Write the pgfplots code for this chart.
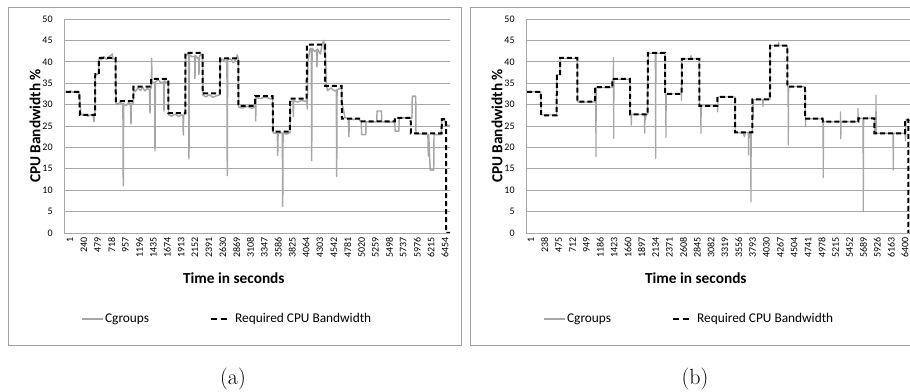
\documentclass[border=0pt]{standalone}
\usepackage{pgfplots}
\pgfplotsset{compat=1.18}
\usepackage{fontspec}
\newfontfamily\carlito{Carlito}
\definecolor{gridgray}{HTML}{A8A8A8}
\definecolor{linegray}{HTML}{A6A6A6}
\definecolor{boxgray}{HTML}{A0A0A0}
\newcommand{\tickfont}{\carlito\fontsize{7.5}{8}\selectfont}
\newcommand{\titlefont}{\carlito\bfseries\fontsize{11.5}{13}\selectfont}
\newcommand{\legfont}{\carlito\fontsize{10}{12}\selectfont}
\pgfplotsset{
  panel/.style={
    scale only axis, width=289.5pt, height=160.5pt,
    anchor=south west,
    ymin=0, ymax=50, ytick={0,5,...,50},
    ymajorgrids, grid style={color=gridgray, line width=0.7pt},
    axis x line*=bottom, axis y line*=left,
    axis line style={gridgray, line width=0.7pt, -},
    major tick length=0pt,
    yticklabel style={font=\tickfont, /pgf/number format/assume math mode=true, xshift=-5pt},
    xticklabel style={font=\tickfont, rotate=90, anchor=east, yshift=-3pt},
    xlabel={Time in seconds},
    xlabel style={font=\titlefont, at={(axis description cs:0.44,-0.21)}, anchor=center},
    ylabel={CPU Bandwidth \%},
    ylabel style={font=\titlefont, at={(axis description cs:-0.075,0.5)}, anchor=center, rotate=0},
    legend columns=2,
    legend style={draw=none, fill=none, font=\legfont, inner sep=0pt,
      at={(axis description cs:0.044,-0.402)}, anchor=west,
      nodes={inner xsep=1.5pt},
      /tikz/every even column/.append style={column sep=44pt}},
    legend cell align=left,
  },
  cg/.style={color=linegray, line width=1.1pt, line join=round,
    legend image code/.code={\draw[##1, line width=0.9pt] (0pt,0pt) -- (15.5pt,0pt);}},
  rq/.style={color=black, line width=1.5pt, dash pattern=on 3.75pt off 2.25pt,
    legend image code/.code={\draw[##1, dash pattern=on 4.5pt off 3pt] (0pt,0pt) -- (12pt,0pt); \path (16pt,0pt);}},
}
\begin{document}
\begin{tikzpicture}
\useasboundingbox (0,0) rectangle (682.5pt,294pt);
\draw[boxgray, line width=0.75pt] (6pt,34.5pt) rectangle (345.75pt,288pt);
\draw[boxgray, line width=0.75pt] (352.5pt,34.5pt) rectangle (692.25pt,288pt);
\node[font=\fontsize{16.5}{18}\selectfont] at (174.75pt,9.5pt) {(a)};
\node[font=\fontsize{16.5}{18}\selectfont] at (521.25pt,9.5pt) {(b)};

\begin{axis}[panel, at={(48pt,119.25pt)}, xmin=-33, xmax=6610,
  xtick={1,240,479,718,957,1196,1435,1674,1913,2152,2391,2630,2869,3108,3347,3586,3825,4064,4303,4542,4781,5020,5259,5498,5737,5976,6215,6454},
  xticklabels={1,240,479,718,957,1196,1435,1674,1913,2152,2391,2630,2869,3108,3347,3586,3825,4064,4303,4542,4781,5020,5259,5498,5737,5976,6215,6454}]
\addplot[cg] table {
1 33.1
40 32.8
80 33.2
120 32.9
160 33.1
200 32.8
230 33.0
255 28.2
280 27.5
330 27.7
380 27.3
430 27.6
470 27.4
483 26.0
488 27.5
500 27.6
505 37.0
565 37.2
570 41.0
610 40.5
650 41.2
700 40.6
750 41.3
800 41.8
805 40.7
856 40.8
860 30.4
890 30.0
930 30.6
970 29.9
981 30.2
987 11.0
993 30.2
1040 29.8
1080 30.5
1110 30.1
1115 28.0
1120 25.5
1126 30.1
1160 30.4
1165 33.6
1200 33.1
1240 33.9
1280 33.3
1320 34.0
1360 33.2
1400 33.8
1440 33.4
1447 28.0
1452 33.6
1470 34.0
1476 40.8
1480 35.4
1520 35.0
1527 35.2
1533 19.2
1540 35.3
1590 35.8
1640 35.0
1682 35.3
1688 28.5
1694 35.6
1730 35.1
1762 35.5
1766 27.6
1820 27.3
1880 27.8
1940 27.2
1990 27.6
2014 27.5
2020 22.9
2026 27.5
2054 27.8
2060 41.4
2100 41.9
2112 41.7
2118 17.3
2124 41.6
2170 41.2
2215 41.3
2221 36.1
2228 41.5
2270 40.8
2284 41.0
2290 37.0
2296 41.3
2330 41.8
2353 41.6
2357 32.2
2410 31.8
2470 32.3
2530 31.7
2600 32.1
2651 32.3
2656 40.3
2700 40.6
2740 40.0
2771 40.3
2777 13.4
2783 40.4
2830 40.7
2880 39.8
2920 40.5
2950 41.6
2967 40.6
2972 29.4
3040 29.2
3120 29.6
3200 29.1
3254 29.5
3260 31.5
3266 26.2
3272 31.6
3350 31.4
3440 31.8
3520 31.3
3559 31.6
3565 23.4
3639 23.3
3645 18.1
3651 23.2
3700 23.4
3725 23.3
3731 6.2
3737 23.3
3800 23.1
3856 23.5
3862 30.8
3908 30.8
3914 27.2
3920 30.9
3990 30.6
4060 31.0
4120 30.7
4144 31.2
4155 29.0
4165 40.0
4200 43.0
4224 43.0
4230 16.9
4236 43.2
4280 42.4
4314 42.8
4320 38.8
4330 43.0
4380 41.8
4410 44.2
4440 45.0
4450 41.5
4459 43.2
4470 40.0
4480 35.0
4500 33.3
4560 33.9
4620 33.2
4654 33.4
4660 13.2
4666 33.5
4720 33.8
4746 33.9
4752 30.0
4775 29.0
4800 27.0
4860 26.6
4870 22.5
4878 26.8
4950 26.5
5020 26.8
5075 26.1
5085 26.0
5088 23.0
5160 23.0
5165 26.0
5250 25.9
5350 26.0
5355 28.5
5430 28.5
5435 26.0
5550 25.9
5660 26.0
5665 23.8
5730 23.8
5735 26.8
5830 26.9
5955 26.8
5961 32.0
6020 32.0
6025 23.2
6150 23.1
6230 23.0
6237 18.0
6243 23.0
6270 14.7
6330 14.7
6335 23.0
6460 23.0
6467 26.5
6520 26.3
6545 25.3
6610 25.0
};
\addlegendentry{Cgroups}
\addplot[rq] table {
1 33
230 33
240 27.6
500 27.6
505 37.1
565 37.1
570 40.9
856 40.9
858 30.8
1160 30.8
1162 34.2
1464 34.2
1466 36
1762 36
1764 28
2054 28
2056 42.1
2353 42.1
2355 32.6
2651 32.6
2653 40.8
2967 40.8
2969 29.7
3254 29.7
3256 32
3559 32
3561 23.7
3856 23.7
3858 31.4
4144 31.4
4146 44
4459 44
4461 34.4
4746 34.4
4748 26.7
5070 26.7
5072 26.1
5660 26.1
5662 26.9
5934 26.9
5936 23.3
6467 23.3
6469 26.6
6541 26.6
6543 0
6610 0
};
\addlegendentry{Required CPU Bandwidth}
\end{axis}

\begin{axis}[panel, at={(394.5pt,119.25pt)}, xmin=-16, xmax=6588,
  xtick={1,238,475,712,949,1186,1423,1660,1897,2134,2371,2608,2845,3082,3319,3556,3793,4030,4267,4504,4741,4978,5215,5452,5689,5926,6163,6400},
  xticklabels={1,238,475,712,949,1186,1423,1660,1897,2134,2371,2608,2845,3082,3319,3556,3793,4030,4267,4504,4741,4978,5215,5452,5689,5926,6163,6400}]
\addplot[cg, line width=0.9pt] table {
1 33.0
235 33.0
245 27.6
509 27.6
511 37.0
566 37.0
568 40.8
862 40.8
864 30.6
1164 30.6
1166 34.0
1175 34.0
1181 17.8
1187 34.0
1460 34.0
1462 35.8
1476 35.9
1480 41.0
1484 22.1
1490 35.9
1763 35.9
1765 27.7
1780 27.7
1786 25.2
1792 27.7
2009 27.7
2015 23.3
2021 27.7
2026 27.7
2032 26.5
2038 27.7
2066 27.7
2068 38.0
2080 42.0
2196 42.0
2202 17.4
2208 42.0
2362 42.0
2364 32.5
2372 32.5
2378 22.3
2384 32.5
2640 32.5
2646 31.0
2650 40.7
2800 40.7
2806 41.5
2812 40.7
2949 40.7
2951 29.7
2971 29.7
2977 23.3
2983 29.7
3257 29.7
3263 28.3
3269 31.8
3560 31.8
3562 23.5
3700 23.3
3720 22.5
3740 23.5
3787 23.5
3793 18.2
3799 23.5
3826 23.5
3832 7.3
3838 23.5
3856 23.5
3858 31.2
3870 27.0
3876 31.2
4032 31.2
4038 29.5
4044 31.2
4158 31.2
4160 43.8
4300 43.8
4306 44.5
4312 43.8
4455 43.8
4457 34.2
4466 34.2
4472 20.6
4478 34.2
4757 34.2
4765 25.0
4771 26.7
5060 26.7
5062 26.0
5064 26.0
5070 12.9
5076 26.0
5362 26.0
5366 28.3
5370 22.0
5376 26.0
5660 26.0
5664 29.1
5670 26.0
5672 26.8
5749 26.8
5755 5.0
5761 26.8
5944 26.8
5946 23.3
5966 23.3
5972 32.2
5978 23.3
6262 23.3
6268 14.7
6274 23.3
6468 23.3
6478 21.5
6484 26.5
6520 26.3
6588 26.3
};
\addlegendentry{Cgroups}
\addplot[rq] table {
1 33
235 33
245 27.5
509 27.5
511 37.1
566 37.1
568 40.9
862 40.9
864 30.7
1164 30.7
1166 34.1
1460 34.1
1462 36
1763 36
1765 27.7
2066 27.7
2068 42.1
2362 42.1
2364 32.5
2648 32.5
2650 40.7
2949 40.7
2951 29.7
3257 29.7
3259 31.8
3560 31.8
3562 23.5
3856 23.5
3858 31.2
4158 31.2
4160 43.8
4455 43.8
4457 34.2
4757 34.2
4759 26.7
5060 26.7
5062 26
5670 26
5672 26.8
5944 26.8
5946 23.3
6468 23.3
6470 26.5
6524 26.5
6526 0
};
\addlegendentry{Required CPU Bandwidth}
\end{axis}
\end{tikzpicture}
\end{document}
